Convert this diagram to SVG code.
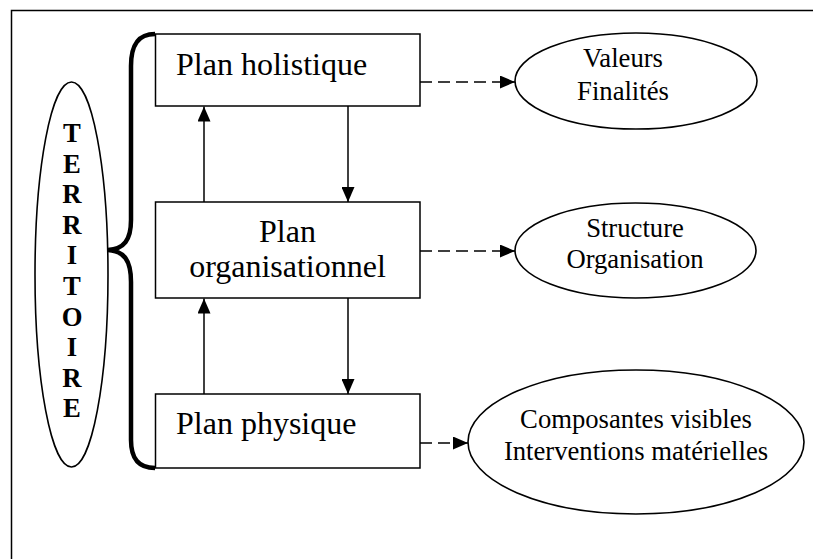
<svg xmlns="http://www.w3.org/2000/svg" width="813" height="559" viewBox="0 0 813 559">
<defs>
<style>
.box{fill:#fff;stroke:#000;stroke-width:1.5}
.ell{fill:#fff;stroke:#000;stroke-width:1.6}
.t32{font-family:"Liberation Serif","Times New Roman",serif;font-size:32px;fill:#000}
.t26{font-family:"Liberation Serif","Times New Roman",serif;font-size:26.67px;fill:#000;text-anchor:middle}
.tb{font-family:"Liberation Serif","Times New Roman",serif;font-size:26.67px;font-weight:bold;fill:#000;text-anchor:middle}
.solid{stroke:#000;stroke-width:1.5;fill:none}
.dash{stroke:#000;stroke-width:1.5;fill:none;stroke-dasharray:12 6}
</style>
<marker id="ah" markerUnits="userSpaceOnUse" markerWidth="15" markerHeight="13" refX="15" refY="6.5" orient="auto">
<path d="M0,0 L15,6.5 L0,13 z" fill="#000"/>
</marker>
</defs>
<rect width="813" height="559" fill="#fff"/>
<g id="frame">
<path d="M11.5,559 L11.5,10.5 L813,10.5" fill="none" stroke="#000" stroke-width="1.5"/>
</g>
<g id="territoire">
<ellipse class="ell" cx="71.5" cy="274.5" rx="36.5" ry="192.5"/>
<text class="tb" x="72" y="142">T</text>
<text class="tb" x="72" y="172.5">E</text>
<text class="tb" x="72" y="203">R</text>
<text class="tb" x="72" y="233.5">R</text>
<text class="tb" x="72" y="264">I</text>
<text class="tb" x="72" y="295">T</text>
<text class="tb" x="72" y="325.5">O</text>
<text class="tb" x="72" y="356">I</text>
<text class="tb" x="72" y="386.5">R</text>
<text class="tb" x="72" y="417">E</text>
</g>
<g id="brace">
<path d="M155,34 C138,34 131,45 131,66 L131,220 C131,240 124,249 108,250 C124,251 131,260 131,282 L131,440 C131,458 138,468 155,468" fill="none" stroke="#000" stroke-width="4.5"/>
</g>
<g id="plan-holistique">
<rect class="box" x="155.5" y="34" width="264.5" height="72"/>
<text class="t32" x="176" y="75">Plan holistique</text>
</g>
<g id="plan-organisationnel">
<rect class="box" x="155.5" y="202" width="264.5" height="96"/>
<text class="t32" x="287.5" y="242" text-anchor="middle">Plan</text>
<text class="t32" x="287.5" y="277" text-anchor="middle">organisationnel</text>
</g>
<g id="plan-physique">
<rect class="box" x="155.5" y="394" width="264.5" height="74"/>
<text class="t32" x="176" y="434">Plan physique</text>
</g>
<g id="valeurs">
<ellipse class="ell" cx="636" cy="81" rx="121" ry="48"/>
<text class="t26" x="623" y="67">Valeurs</text>
<text class="t26" x="623" y="100">Finalités</text>
</g>
<g id="structure">
<ellipse class="ell" cx="635.5" cy="250.5" rx="120.5" ry="47.5"/>
<text class="t26" x="635" y="237">Structure</text>
<text class="t26" x="635" y="268">Organisation</text>
</g>
<g id="composantes">
<ellipse class="ell" cx="636" cy="442" rx="168" ry="72"/>
<text class="t26" x="636" y="428">Composantes visibles</text>
<text class="t26" x="636" y="460">Interventions matérielles</text>
</g>
<g id="connectors">
<line class="solid" x1="204" y1="202" x2="204" y2="106.5" marker-end="url(#ah)"/>
<line class="solid" x1="348" y1="106" x2="348" y2="202" marker-end="url(#ah)"/>
<line class="solid" x1="204" y1="394" x2="204" y2="298.5" marker-end="url(#ah)"/>
<line class="solid" x1="348" y1="298" x2="348" y2="394" marker-end="url(#ah)"/>
<line class="dash" x1="420" y1="82" x2="515" y2="82" marker-end="url(#ah)"/>
<line class="dash" x1="420" y1="251" x2="515" y2="251" marker-end="url(#ah)"/>
<line class="dash" x1="420" y1="443" x2="468" y2="443" marker-end="url(#ah)"/>
</g>
</svg>
